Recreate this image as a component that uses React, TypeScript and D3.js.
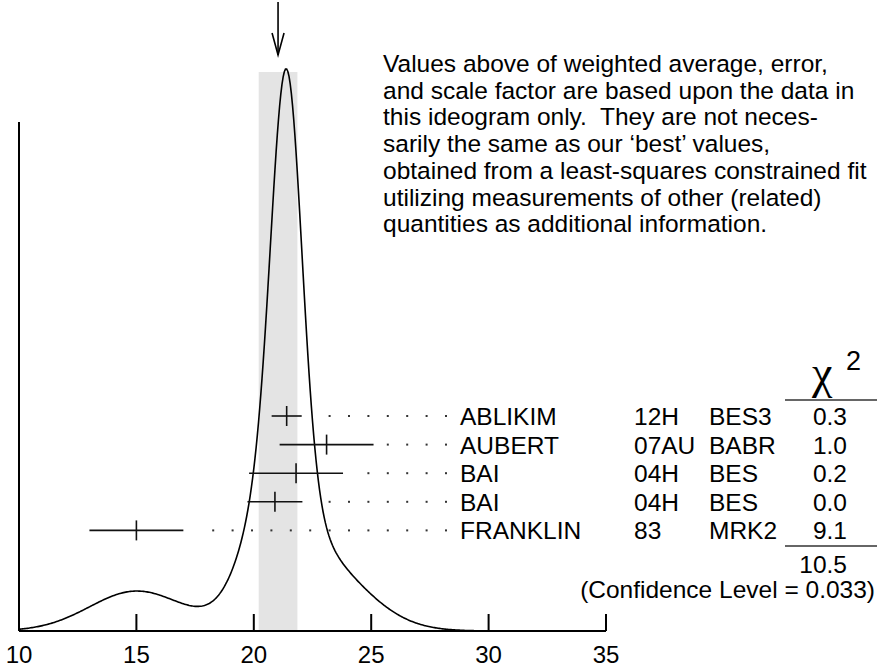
import * as d3 from 'd3';

// measurements shown in the ideogram
const names = ['ABLIKIM', 'AUBERT', 'BAI', 'BAI', 'FRANKLIN'];
const years = ['12H', '07AU', '04H', '04H', '83'];
const experiments = ['BES3', 'BABR', 'BES', 'BES', 'MRK2'];
const values = [21.4, 23.1, 21.8, 20.9, 15.0];
const errors = [0.64, 2.0, 2.0, 1.17, 2.0];
const chi2Labels = ['0.3', '1.0', '0.2', '0.0', '9.1'];
const chi2Total = '10.5';
const confidenceLabel = '(Confidence Level = 0.033)';
const xTicks = [10, 15, 20, 25, 30, 35];
const noteLines = [
  'Values above of weighted average, error,',
  'and scale factor are based upon the data in',
  'this ideogram only.  They are not neces-',
  'sarily the same as our \u2018best\u2019 values,',
  'obtained from a least-squares constrained fit',
  'utilizing measurements of other (related)',
  'quantities as additional information.'
];

const W = 877;
const H = 670;
const FONT = '"Liberation Sans", Arial, Helvetica, sans-serif';
const FS = 24.5;

export default function App(): JSX.Element {
  const x = d3.scaleLinear().domain([10, 35]).range([19, 606]);
  const baseY = 631;

  // weighted average, error with scale factor
  const w = errors.map((e) => 1 / (e * e));
  const sumW = d3.sum(w);
  const mean = d3.sum(values.map((v, i) => v * w[i])) / sumW;
  const chi2 = d3.sum(values.map((v, i) => ((v - mean) / errors[i]) ** 2));
  const scale = Math.sqrt(chi2 / (values.length - 1));
  const err = (1 / Math.sqrt(sumW)) * Math.max(1, scale);

  // ideogram: one gaussian per measurement, area ~ 1/sigma
  const density = (t: number) =>
    d3.sum(values.map((v, i) => w[i] * Math.exp(-((t - v) ** 2) / (2 * errors[i] ** 2))));
  const samples = d3.range(10, 35.0001, 0.05).map((t) => [t, density(t)] as [number, number]);
  const maxD = d3.max(samples, (d) => d[1]) as number;
  const y = d3.scaleLinear().domain([0, maxD]).range([baseY, 69]);
  const line = d3
    .line<[number, number]>()
    .x((d) => x(d[0]))
    .y((d) => y(d[1]));

  const row = d3.scaleLinear().domain([0, 1]).range([416, 444.6]);

  const dotEnd = 446;
  const dotStep = 19.4;

  return (
    <svg
      xmlns="http://www.w3.org/2000/svg"
      width={W}
      height={H}
      style={{ position: 'absolute', left: 0, top: 0, background: '#fff', whiteSpace: 'pre' }}
      fontFamily={FONT}
    >
      {/* error band of the weighted average */}
      <rect
        x={x(mean - err)}
        y={y(maxD) + 3}
        width={x(mean + err) - x(mean - err)}
        height={baseY - y(maxD) - 3}
        fill="#e4e4e4"
      />

      {/* arrow marking the average */}
      <g stroke="#000" strokeWidth={1.6} fill="none">
        <line x1={x(mean)} x2={x(mean)} y1={2} y2={55} />
        <polyline points={`${x(mean) - 6},33 ${x(mean)},55 ${x(mean) + 6},33`} />
      </g>

      {/* axes */}
      <g stroke="#000" strokeWidth={2} fill="none">
        <line x1={x(10)} x2={x(10)} y1={122} y2={baseY} />
        <line x1={x(10)} x2={x(35)} y1={baseY} y2={baseY} />
        {xTicks.slice(1).map((t) => (
          <line key={t} x1={x(t)} x2={x(t)} y1={baseY} y2={baseY - 17} />
        ))}
      </g>
      {xTicks.map((t) => (
        <text key={t} x={x(t)} y={663} fontSize={24} textAnchor="middle">
          {t}
        </text>
      ))}

      {/* ideogram curve */}
      <path d={line(samples) as string} fill="none" stroke="#000" strokeWidth={1.6} />

      {/* measurements */}
      {values.map((v, i) => {
        const cy = row(i);
        const right = x(v + errors[i]);
        const dots = d3
          .range(0, 30)
          .map((k) => dotEnd - k * dotStep)
          .filter((px) => px > right + 12);
        return (
          <g key={i}>
            <g stroke="#111" strokeWidth={1.6}>
              <line x1={x(v - errors[i])} x2={right} y1={cy} y2={cy} />
              <line x1={x(v)} x2={x(v)} y1={cy - 10} y2={cy + 10} />
            </g>
            {dots.map((px) => (
              <rect key={px} x={px - 1} y={cy - 1} width={2} height={2} fill="#333" />
            ))}
            <text x={460} y={cy + 9} fontSize={FS}>
              {names[i]}
            </text>
            <text x={634} y={cy + 9} fontSize={FS}>
              {years[i]}
            </text>
            <text x={709} y={cy + 9} fontSize={FS}>
              {experiments[i]}
            </text>
            <text x={847} y={cy + 9} fontSize={FS} textAnchor="end">
              {chi2Labels[i]}
            </text>
          </g>
        );
      })}

      {/* chi-square column */}
      <text x={812} y={388} fontSize={46} fontFamily='"Liberation Serif", "DejaVu Serif", serif'>
        {'\u03c7'}
      </text>
      <text x={846} y={370} fontSize={27}>
        2
      </text>
      <line x1={785} x2={877} y1={400} y2={400} stroke="#333" strokeWidth={1.5} />
      <line x1={785} x2={877} y1={546} y2={546} stroke="#333" strokeWidth={1.5} />
      <text x={847} y={573} fontSize={FS} textAnchor="end">
        {chi2Total}
      </text>
      <text x={875} y={598} fontSize={FS} textAnchor="end">
        {confidenceLabel}
      </text>

      {/* note */}
      {noteLines.map((s, i) => (
        <text key={i} x={383} y={72 + i * 26.7} fontSize={FS} xmlSpace="preserve">
          {s}
        </text>
      ))}
    </svg>
  );
}
